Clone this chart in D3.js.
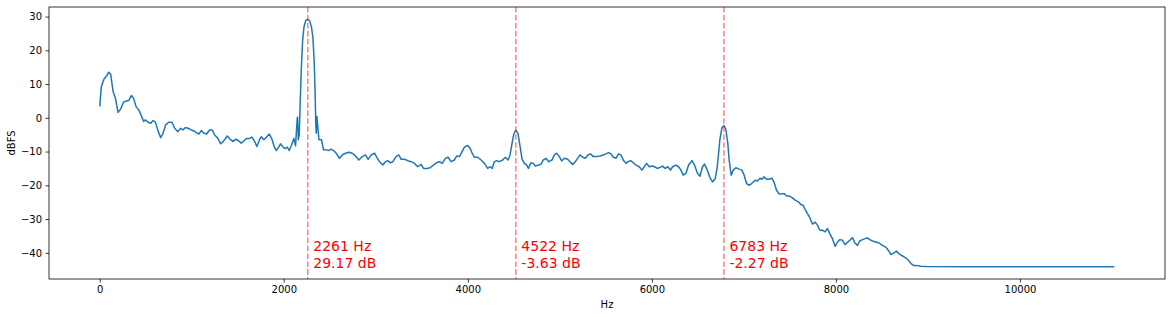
<!DOCTYPE html>
<html lang="en">

<head>
	<meta charset="utf-8">
	<title>Spectrum peaks</title>
	<script src="https://d3js.org/d3.v7.min.js"></script>
	<style>
		body {
			margin: 0;
			background: white;
			font-family: "DejaVu Sans", sans-serif;
		}

		.axis text {
			font-family: "DejaVu Sans", sans-serif;
			font-size: 10px;
			fill: #000;
		}

		.axis path,
		.axis line {
			stroke: #000;
			stroke-width: 0.8;
		}
	</style>
</head>

<body>
	<script>
		//spectrum with the three strongest harmonics marked

		var hz = [0, 18, 47, 72, 98, 120, 145, 170, 199, 228, 257, 290, 315, 344, 366, 394, 427, 452, 478, 496,
			525, 554, 579, 605, 633, 662, 688, 717, 749, 785, 814, 850, 879, 905, 930, 959, 995, 1024, 1050, 1078,
			1104, 1133, 1162, 1194, 1223, 1249, 1285, 1314, 1343, 1386, 1415, 1448, 1480, 1509, 1538, 1567, 1596, 1629, 1654, 1683,
			1708, 1737, 1756, 1784, 1813, 1842, 1871, 1893, 1918, 1944, 1965, 1991, 2016, 2038, 2060, 2081, 2110, 2128, 2145, 2150,
			2158, 2168, 2178, 2190, 2205, 2220, 2240, 2261, 2280, 2300, 2316, 2330, 2340, 2348, 2353, 2360, 2368, 2382, 2410, 2432,
			2461, 2490, 2515, 2541, 2570, 2606, 2635, 2671, 2707, 2744, 2780, 2816, 2852, 2888, 2917, 2950, 2986, 3011, 3040, 3076,
			3105, 3130, 3156, 3185, 3221, 3250, 3276, 3312, 3348, 3384, 3420, 3456, 3492, 3518, 3554, 3590, 3626, 3662, 3692, 3721,
			3757, 3786, 3818, 3854, 3880, 3909, 3938, 3963, 3999, 4025, 4047, 4072, 4108, 4144, 4180, 4216, 4242, 4264, 4289, 4314,
			4343, 4379, 4408, 4437, 4459, 4481, 4500, 4522, 4545, 4568, 4590, 4615, 4640, 4658, 4687, 4712, 4734, 4770, 4796, 4821,
			4850, 4878, 4915, 4940, 4965, 4995, 5020, 5049, 5085, 5110, 5139, 5168, 5193, 5219, 5248, 5277, 5306, 5335, 5364, 5400,
			5436, 5472, 5501, 5530, 5556, 5581, 5610, 5638, 5664, 5689, 5719, 5740, 5769, 5798, 5827, 5863, 5892, 5917, 5943, 5972,
			6001, 6030, 6059, 6088, 6116, 6145, 6174, 6203, 6225, 6261, 6290, 6316, 6341, 6370, 6399, 6436, 6464, 6493, 6522, 6551,
			6573, 6602, 6631, 6660, 6689, 6711, 6739, 6761, 6783, 6804, 6825, 6840, 6862, 6884, 6913, 6949, 6978, 7003, 7028, 7057,
			7087, 7123, 7148, 7174, 7195, 7220, 7246, 7275, 7304, 7329, 7354, 7383, 7413, 7438, 7463, 7492, 7521, 7557, 7593, 7618,
			7644, 7666, 7691, 7717, 7746, 7775, 7800, 7825, 7854, 7883, 7908, 7934, 7962, 7992, 8017, 8043, 8071, 8100, 8129, 8151,
			8180, 8205, 8234, 8260, 8288, 8317, 8342, 8368, 8396, 8433, 8469, 8505, 8542, 8570, 8599, 8628, 8657, 8686, 8716, 8744,
			8773, 8795, 8817, 8846, 8885, 8922, 8976, 9500, 10000, 10500, 11025];

		var dbfs = [3.4, 9.3, 11.5, 12.3, 13.5, 12.8, 7.8, 5.9, 1.6, 2.6, 4.6, 5.0, 5.1, 6.6, 5.9, 3.4, 2.2, 0.6, -1.1, -0.6,
			-1.3, -1.6, -0.8, -1.3, -3.8, -5.9, -4.6, -2.1, -1.3, -1.3, -3.1, -4.1, -3.1, -3.6, -2.9, -3.1, -3.6, -3.9, -4.4, -4.8,
			-3.8, -4.6, -4.8, -3.6, -3.6, -5.1, -6.1, -7.7, -7.0, -5.4, -6.3, -7.0, -6.3, -6.8, -7.5, -6.8, -6.1, -6.1, -5.7, -7.0,
			-8.5, -6.5, -5.6, -6.5, -5.7, -4.8, -6.3, -8.3, -9.7, -8.7, -7.7, -8.7, -9.1, -8.7, -9.7, -8.3, -6.1, -8.3, -0.5, 0.2,
			-6.5, -5, 4, 14, 23, 27, 28.9, 29.17, 28.8, 27, 24, 17, 8, -2, -4.6, 0.4, -2, -6.5, -6.5, -9.5,
			-9.5, -9.7, -9.3, -9.7, -10.5, -12, -11, -10.5, -10.2, -10.5, -11.3, -12.5, -11.5, -11, -12.3, -11, -10.5, -11.7, -13, -14,
			-13, -12.7, -13.3, -13, -11.5, -11, -12.3, -12.3, -12.7, -13, -13.5, -14.5, -13.8, -15, -15, -14.8, -14, -13.3, -13, -13.5,
			-12, -11.7, -13, -12.5, -11.3, -11.5, -10, -8.7, -8.2, -9, -10.5, -11.7, -11.7, -12.5, -13.5, -15, -14.5, -15, -13, -12.7,
			-13, -12.5, -11.7, -12.5, -11, -7.5, -4.8, -3.63, -4.6, -8.5, -12.3, -13.5, -14, -15, -13.3, -13.5, -14.3, -14, -13.7, -12.5,
			-12, -13, -12.5, -11, -10.5, -11.5, -12.8, -12, -12.3, -13, -13.8, -13, -12, -11, -11.7, -12, -11, -10.7, -11.5, -11.5,
			-11.3, -11, -10.7, -10.3, -10.7, -11.7, -12, -10.7, -11, -12.5, -13.5, -13, -12.7, -13.3, -14, -14.5, -15.5, -14.5, -13.5, -14.5,
			-14.3, -14.5, -15, -14.7, -14.3, -15, -14.5, -15.5, -14.5, -14, -14.5, -15.5, -17, -16.5, -14, -12.7, -14, -16.3, -17.3, -14.5,
			-13.7, -15.5, -17.7, -19, -18, -14.5, -6.5, -3, -2.27, -3.4, -7.5, -12.5, -17, -15.5, -14.8, -15.2, -15.5, -17, -19.4, -20,
			-19.4, -18.5, -18.7, -17.9, -18.2, -17.5, -18.2, -18.2, -17.9, -19.2, -21.4, -22.6, -22.6, -22.4, -23.2, -23.2, -23.6, -24.4, -24.9, -25.7,
			-25.9, -27.2, -28.4, -29.6, -31.5, -30.9, -31.8, -33.3, -33.3, -33.8, -32.8, -34.3, -35.8, -38.1, -36.8, -36.1, -36.3, -37.6, -36.8, -36.3,
			-35.5, -37, -37.8, -36.5, -36.1, -35.8, -35.6, -36.1, -36.5, -36.8, -37.1, -37.8, -38.3, -39.3, -40.5, -40.1, -39.5, -40.3, -40.8, -41.3,
			-41.8, -42.5, -43.2, -43.8, -43.8, -44.0, -44.05, -44.1, -44.1, -44.1, -44.1];

		//marked peaks
		var peakHz = [2261, 4522, 6783];
		var peakDb = [29.17, -3.63, -2.27];

		var xTicks = [0, 2000, 4000, 6000, 8000, 10000];
		var yTicks = [-40, -30, -20, -10, 0, 10, 20, 30];

		var w = 1172;
		var h = 317;
		//plot box (window.top is reserved, so own names)
		var padL = 49, padR = 1165, padT = 7, padB = 279;

		var dataset = hz.map(function (d, i) {
			return { f: d, v: dbfs[i] };
		});

		//matplotlib style 5% margins
		var xExt = d3.extent(hz), yExt = d3.extent(dbfs);
		var xPad = (xExt[1] - xExt[0]) * 0.05, yPad = (yExt[1] - yExt[0]) * 0.05;

		var xScale = d3.scaleLinear().domain([xExt[0] - xPad, xExt[1] + xPad]).range([padL, padR]);
		var yScale = d3.scaleLinear().domain([yExt[0] - yPad, yExt[1] + yPad]).range([padB, padT]);

		var minus = function (d) { return d3.format("d")(d).replace("-", "\u2212"); };

		var xAxis = d3.axisBottom(xScale).tickValues(xTicks).tickSize(3.5).tickPadding(3.5).tickFormat(minus);
		var yAxis = d3.axisLeft(yScale).tickValues(yTicks).tickSize(3.5).tickPadding(3.5).tickFormat(minus);

		var svg = d3.select("body")
			.append("svg")
			.attr("width", w)
			.attr("height", h)
			.style("display", "block");

		svg.append("rect")
			.attr("width", w)
			.attr("height", h)
			.attr("fill", "white");

		//spectrum line
		var line = d3.line()
			.x(function (d) { return xScale(d.f); })
			.y(function (d) { return yScale(d.v); });

		svg.append("path")
			.datum(dataset)
			.attr("d", line)
			.attr("fill", "none")
			.attr("stroke", "#1f77b4")
			.attr("stroke-width", 1.5)
			.attr("stroke-linejoin", "round");

		//dashed markers
		svg.selectAll(".peakLine")
			.data(peakHz)
			.enter()
			.append("line")
			.attr("class", "peakLine")
			.attr("x1", function (d) { return xScale(d); })
			.attr("x2", function (d) { return xScale(d); })
			.attr("y1", padT)
			.attr("y2", padB)
			.style("stroke", "red")
			.style("stroke-opacity", 0.5)
			.style("stroke-width", 1.5)
			.style("stroke-dasharray", "5.55, 2.4");

		var labels = svg.selectAll(".peakLabel")
			.data(peakHz)
			.enter()
			.append("text")
			.attr("class", "peakLabel")
			.attr("x", function (d) { return xScale(d) + 5.5; })
			.attr("y", yScale(-44.4))
			.style("font-family", "DejaVu Sans, sans-serif")
			.style("font-size", "14px")
			.style("fill", "red");

		labels.append("tspan")
			.attr("x", function (d) { return xScale(d) + 5.5; })
			.attr("dy", -16.6)
			.text(function (d) { return d + " Hz"; });

		labels.append("tspan")
			.attr("x", function (d) { return xScale(d) + 5.5; })
			.attr("dy", 16.6)
			.text(function (d, i) { return peakDb[i].toFixed(2) + " dB"; });

		//axes and frame
		svg.append("g")
			.attr("class", "axis")
			.attr("transform", "translate(0," + padB + ")")
			.call(xAxis)
			.select(".domain").remove();

		svg.append("g")
			.attr("class", "axis")
			.attr("transform", "translate(" + padL + ",0)")
			.call(yAxis)
			.select(".domain").remove();

		svg.append("rect")
			.attr("x", padL)
			.attr("y", padT)
			.attr("width", padR - padL)
			.attr("height", padB - padT)
			.attr("fill", "none")
			.attr("stroke", "#000")
			.attr("stroke-width", 0.8);

		svg.append("text")
			.attr("text-anchor", "middle")
			.attr("x", (padL + padR) / 2)
			.attr("y", 308)
			.style("font-size", "10px")
			.text("Hz");

		svg.append("text")
			.attr("text-anchor", "middle")
			.attr("transform", "translate(15," + ((padT + padB) / 2) + ")rotate(-90)")
			.style("font-size", "10px")
			.text("dBFS");
	</script>
</body>

</html>
